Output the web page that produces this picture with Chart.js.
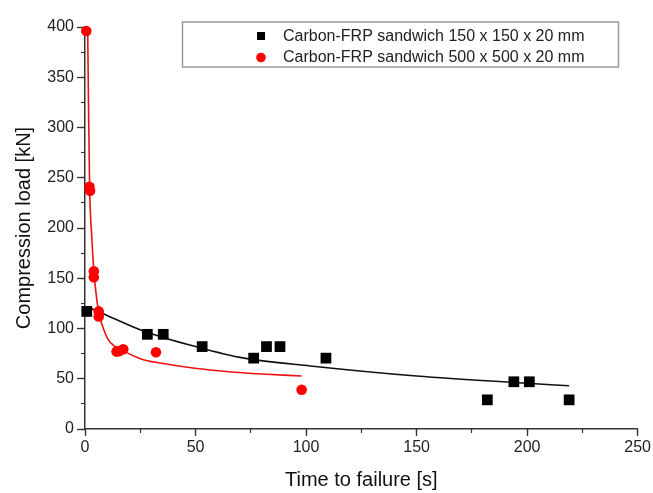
<!DOCTYPE html>
<html><head><meta charset="utf-8">
<script src="https://cdn.jsdelivr.net/npm/chart.js@4.4.1/dist/chart.umd.min.js"></script>
<style>html,body{margin:0;padding:0;background:#fff}#wrap{width:653px;height:493px}</style>
</head><body><div id="wrap"><canvas id="c" width="653" height="493"></canvas></div>
<script>
// ---- data ----
const seriesNames = ['Carbon-FRP sandwich 150 x 150 x 20 mm', 'Carbon-FRP sandwich 500 x 500 x 20 mm'];
// 150 x 150 x 20 mm specimens (black squares)
const smallTime = [0.8, 28.2, 35.4, 53, 76.3, 82.1, 88.2, 109, 182, 194, 201, 219];
const smallLoad = [117, 94.2, 94.2, 82, 70.5, 82, 82, 70.5, 29, 47, 47, 29];
// 500 x 500 x 20 mm specimens (red circles)
const largeTime = [0.6, 2.0, 2.3, 4.0, 4.0, 6.2, 6.2, 14.3, 15.5, 17.3, 32.1, 98];
const largeLoad = [396, 241, 237, 157, 151, 117, 112, 77, 77.5, 79.3, 76.3, 39];
// fitted trend curve for 150 mm (black line)
const smallFitTime = [0, 4.5, 13, 27, 50, 72, 102, 150, 200, 219];
const smallFitLoad = [122, 118.4, 110, 97, 82, 70.5, 62.7, 52.7, 45.5, 43];
// fitted trend curve for 500 mm (red line)
const largeFitTime = [1.2, 1.6, 2.1, 3.1, 4, 5, 6.2, 8, 10.5, 13, 16.6, 25, 34.7, 49.7, 64.8, 80, 98];
const largeFitLoad = [400, 320, 240, 190, 157, 135, 116, 102, 89, 83, 78.6, 70, 65.4, 60.4, 57, 54.7, 52.7];
// axis ticks
const xTickValues = [0, 50, 100, 150, 200, 250];
const xMinorTicks = [0, 25, 50, 75, 100, 125, 150, 175, 200, 225, 250];
const yTickValues = [0, 50, 100, 150, 200, 250, 300, 350, 400];
const yMinorTicks = [0, 25, 50, 75, 100, 125, 150, 175, 200, 225, 250, 275, 300, 325, 350, 375, 400];
const xTitle = 'Time to failure [s]';
const yTitle = 'Compression load [kN]';

const pts = (xs, ys) => xs.map((x, i) => ({x: x, y: ys[i]}));
const FONT = "'Liberation Sans', Arial, sans-serif";
const AX = '#333';

const legendPlugin = {
  id: 'boxLegend',
  afterDraw(chart) {
    const ctx = chart.ctx;
    ctx.save();
    ctx.strokeStyle = '#9a9a9a';
    ctx.lineWidth = 1.5;
    ctx.strokeRect(182.5, 22, 436, 45);
    ctx.font = '16px ' + FONT;
    ctx.textBaseline = 'middle';
    ctx.fillStyle = '#000';
    ctx.fillRect(257, 32, 8, 8);
    ctx.fillStyle = '#222';
    ctx.fillText(seriesNames[0], 283, 36.5);
    ctx.fillStyle = '#ff0000';
    ctx.beginPath(); ctx.arc(261, 57.5, 4.8, 0, Math.PI * 2); ctx.fill();
    ctx.fillStyle = '#222';
    ctx.fillText(seriesNames[1], 283, 57.5);
    ctx.restore();
  }
};

new Chart(document.getElementById('c'), {
  type: 'scatter',
  data: {
    datasets: [
      {label: seriesNames[0], data: pts(smallTime, smallLoad), pointStyle: 'rect', pointRadius: 7.6,
       backgroundColor: '#000', borderWidth: 0, order: 0, clip: false, xAxisID: 'x', yAxisID: 'y'},
      {label: seriesNames[1], data: pts(largeTime, largeLoad), pointStyle: 'circle', pointRadius: 5.3,
       backgroundColor: '#ff0000', borderWidth: 0, order: 0, clip: false, xAxisID: 'x', yAxisID: 'y'},
      {label: 'fit150', data: pts(smallFitTime, smallFitLoad), showLine: true, pointRadius: 0,
       borderColor: '#111', borderWidth: 1.6, cubicInterpolationMode: 'monotone', order: 1, xAxisID: 'x', yAxisID: 'y'},
      {label: 'fit500', data: pts(largeFitTime, largeFitLoad), showLine: true, pointRadius: 0,
       borderColor: '#ee1111', borderWidth: 1.6, cubicInterpolationMode: 'monotone', order: 1, clip: false, xAxisID: 'x', yAxisID: 'y'}
    ]
  },
  options: {
    responsive: false,
    animation: false,
    devicePixelRatio: 1,
    layout: {padding: {top: 27, right: 15, bottom: 0, left: 0}},
    plugins: {legend: {display: false}, tooltip: {enabled: false}},
    scales: {
      x: {
        type: 'linear', position: 'bottom', min: 0, max: 250, weight: 1,
        afterBuildTicks: s => { s.ticks = xTickValues.map(v => ({value: v})); },
        afterFit: s => { s.height = 64; },
        ticks: {padding: 2, color: '#222', font: {family: FONT, size: 16}},
        grid: {drawOnChartArea: false, tickLength: 7, tickColor: AX, tickWidth: 1.3},
        border: {display: true, color: AX, width: 1.5},
        title: {display: true, text: xTitle, color: '#111', font: {family: FONT, size: 20}, padding: {top: 0, bottom: 1}}
      },
      x2: {
        type: 'linear', position: 'bottom', min: 0, max: 250, weight: 0,
        afterBuildTicks: s => { s.ticks = xMinorTicks.map(v => ({value: v})); },
        afterFit: s => { s.height = 0; },
        ticks: {display: false},
        grid: {drawOnChartArea: false, tickLength: 4, tickColor: AX, tickWidth: 1.2},
        border: {display: false}
      },
      y: {
        type: 'linear', position: 'left', min: 0, max: 400, weight: 1,
        afterBuildTicks: s => { s.ticks = yTickValues.map(v => ({value: v})); },
        afterFit: s => { s.width = 85; },
        ticks: {padding: 3, color: '#222', font: {family: FONT, size: 16}},
        grid: {drawOnChartArea: false, tickLength: 8, tickColor: AX, tickWidth: 1.3},
        border: {display: true, color: AX, width: 1.5},
        title: {display: true, text: yTitle, color: '#111', font: {family: FONT, size: 20}, padding: {top: 12, bottom: 0}}
      },
      y2: {
        type: 'linear', position: 'left', min: 0, max: 400, weight: 0,
        afterBuildTicks: s => { s.ticks = yMinorTicks.map(v => ({value: v})); },
        afterFit: s => { s.width = 0; },
        ticks: {display: false},
        grid: {drawOnChartArea: false, tickLength: 4, tickColor: AX, tickWidth: 1.2},
        border: {display: false}
      }
    }
  },
  plugins: [legendPlugin]
});
</script>
</body></html>
